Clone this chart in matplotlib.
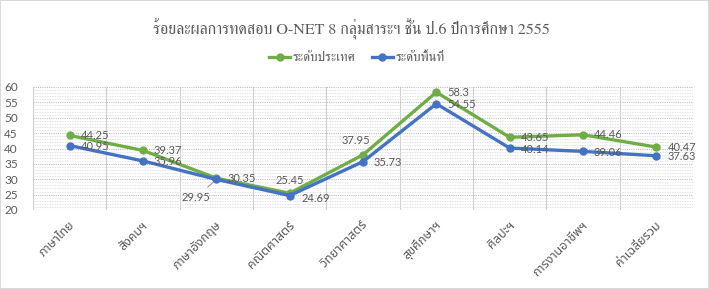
import matplotlib
matplotlib.use("Agg")
import matplotlib.pyplot as plt
import numpy as np

# ------- data -------
subjects = ["ภาษาไทย", "สังคมฯ", "ภาษาอังกฤษ", "คณิตศาสตร์", "วิทยาศาสตร์",
            "สุขศึกษาฯ", "ศิลปะฯ", "การงานอาชีพฯ", "ค่าเฉลี่ยรวม"]
national = [44.25, 39.37, 30.35, 25.45, 37.95, 58.3, 43.65, 44.46, 40.47]
area = [40.95, 35.96, 29.95, 24.69, 35.73, 54.55, 40.14, 39.06, 37.63]
series_names = ["ระดับประเทศ", "ระดับพื้นที่"]
title = "ร้อยละผลการทดสอบ O-NET 8 กลุ่มสาระฯ ชั้น ป.6 ปีการศึกษา 2555"

GREEN = "#70AD47"
BLUE = "#4472C4"
TXT = "#595959"
num_font = ["Lato", "DejaVu Sans"]
thai_serif = ["FreeSerif", "DejaVu Sans"]
thai_sans = ["Noto Sans Thai", "DejaVu Sans"]

fig = plt.figure(figsize=(7.09, 2.89), dpi=100, edgecolor="#D9D9D9", linewidth=1.2)
ax = fig.add_axes([33 / 709, 1 - 210 / 289, 660 / 709, 123 / 289])

x = np.arange(len(subjects))
ax.plot(x, national, color=GREEN, lw=2.4, marker="o", ms=5, mfc=GREEN, mec=GREEN,
        label=series_names[0], zorder=3)
ax.plot(x, area, color=BLUE, lw=2.4, marker="o", ms=5, mfc=BLUE, mec=BLUE,
        label=series_names[1], zorder=4)

ax.set_xlim(-0.5, len(subjects) - 0.5)
ax.set_ylim(20, 60)
ax.set_yticks(np.arange(20, 61, 5))
ax.set_yticks(np.arange(20, 61, 1), minor=True)
ax.set_xticks(x)
ax.set_xticks(np.arange(-0.5, len(subjects)), minor=True)
ax.grid(axis="y", which="major", color="#BFBFBF", lw=0.8, ls=(0, (1, 1)))
ax.grid(axis="y", which="minor", color="#D9D9D9", lw=0.6, ls=(0, (1, 1)))
ax.grid(axis="x", which="minor", color="#D0D0D0", lw=0.8)
ax.set_axisbelow(True)
for s in ax.spines.values():
    s.set_visible(False)
ax.tick_params(axis="both", which="both", length=0)
ax.tick_params(axis="y", pad=11, labelcolor=TXT)
ax.set_yticklabels([str(v) for v in range(20, 61, 5)], family=num_font, fontsize=8.5)
ax.set_xticklabels([])

# category labels, rotated
for xi, name in zip(x, subjects):
    ax.annotate(name, (xi, 20), xytext=(3, -13), textcoords="offset pixels",
                rotation=45, rotation_mode="anchor", ha="right", va="center",
                family=thai_sans, fontsize=9, color=TXT)

# data labels
def label(xi, yi, txt, dx=11, dy=0, ha="left", leader=False):
    kw = {}
    if leader:
        kw["arrowprops"] = dict(arrowstyle="-", color="#7F7F7F", lw=0.6, shrinkA=2, shrinkB=3)
    ax.annotate(txt, (xi, yi), xytext=(dx, dy), textcoords="offset pixels",
                ha=ha, va="center", family=num_font, fontsize=8, color=TXT,
                zorder=5, **kw)

for i, v in enumerate(national):
    if i == 3:
        label(i, v, f"{v:g}", 0, 13, "center")
    elif i == 4:
        label(i, v, f"{v:g}", -7, 14, "center")
    else:
        label(i, v, f"{v:g}", 11, 0)
for i, v in enumerate(area):
    if i == 2:
        label(i, v, f"{v:g}", -20, -18, "center", leader=True)
    elif i == 3:
        label(i, v, f"{v:g}", 12, -3)
    else:
        label(i, v, f"{v:g}", 11, -1)

fig.text(351 / 709, 1 - 29 / 289, title, ha="center", va="center",
         family=thai_serif, fontsize=11.5, color=TXT)
fig.legend(loc="center", bbox_to_anchor=(357 / 709, 1 - 58 / 289), ncol=2,
           frameon=False, prop={"family": thai_serif, "size": 9.5},
           labelcolor=TXT, handlelength=1.6, handletextpad=0.2, columnspacing=1.2)

fig.savefig("out.png", dpi=100, edgecolor=fig.get_edgecolor())
